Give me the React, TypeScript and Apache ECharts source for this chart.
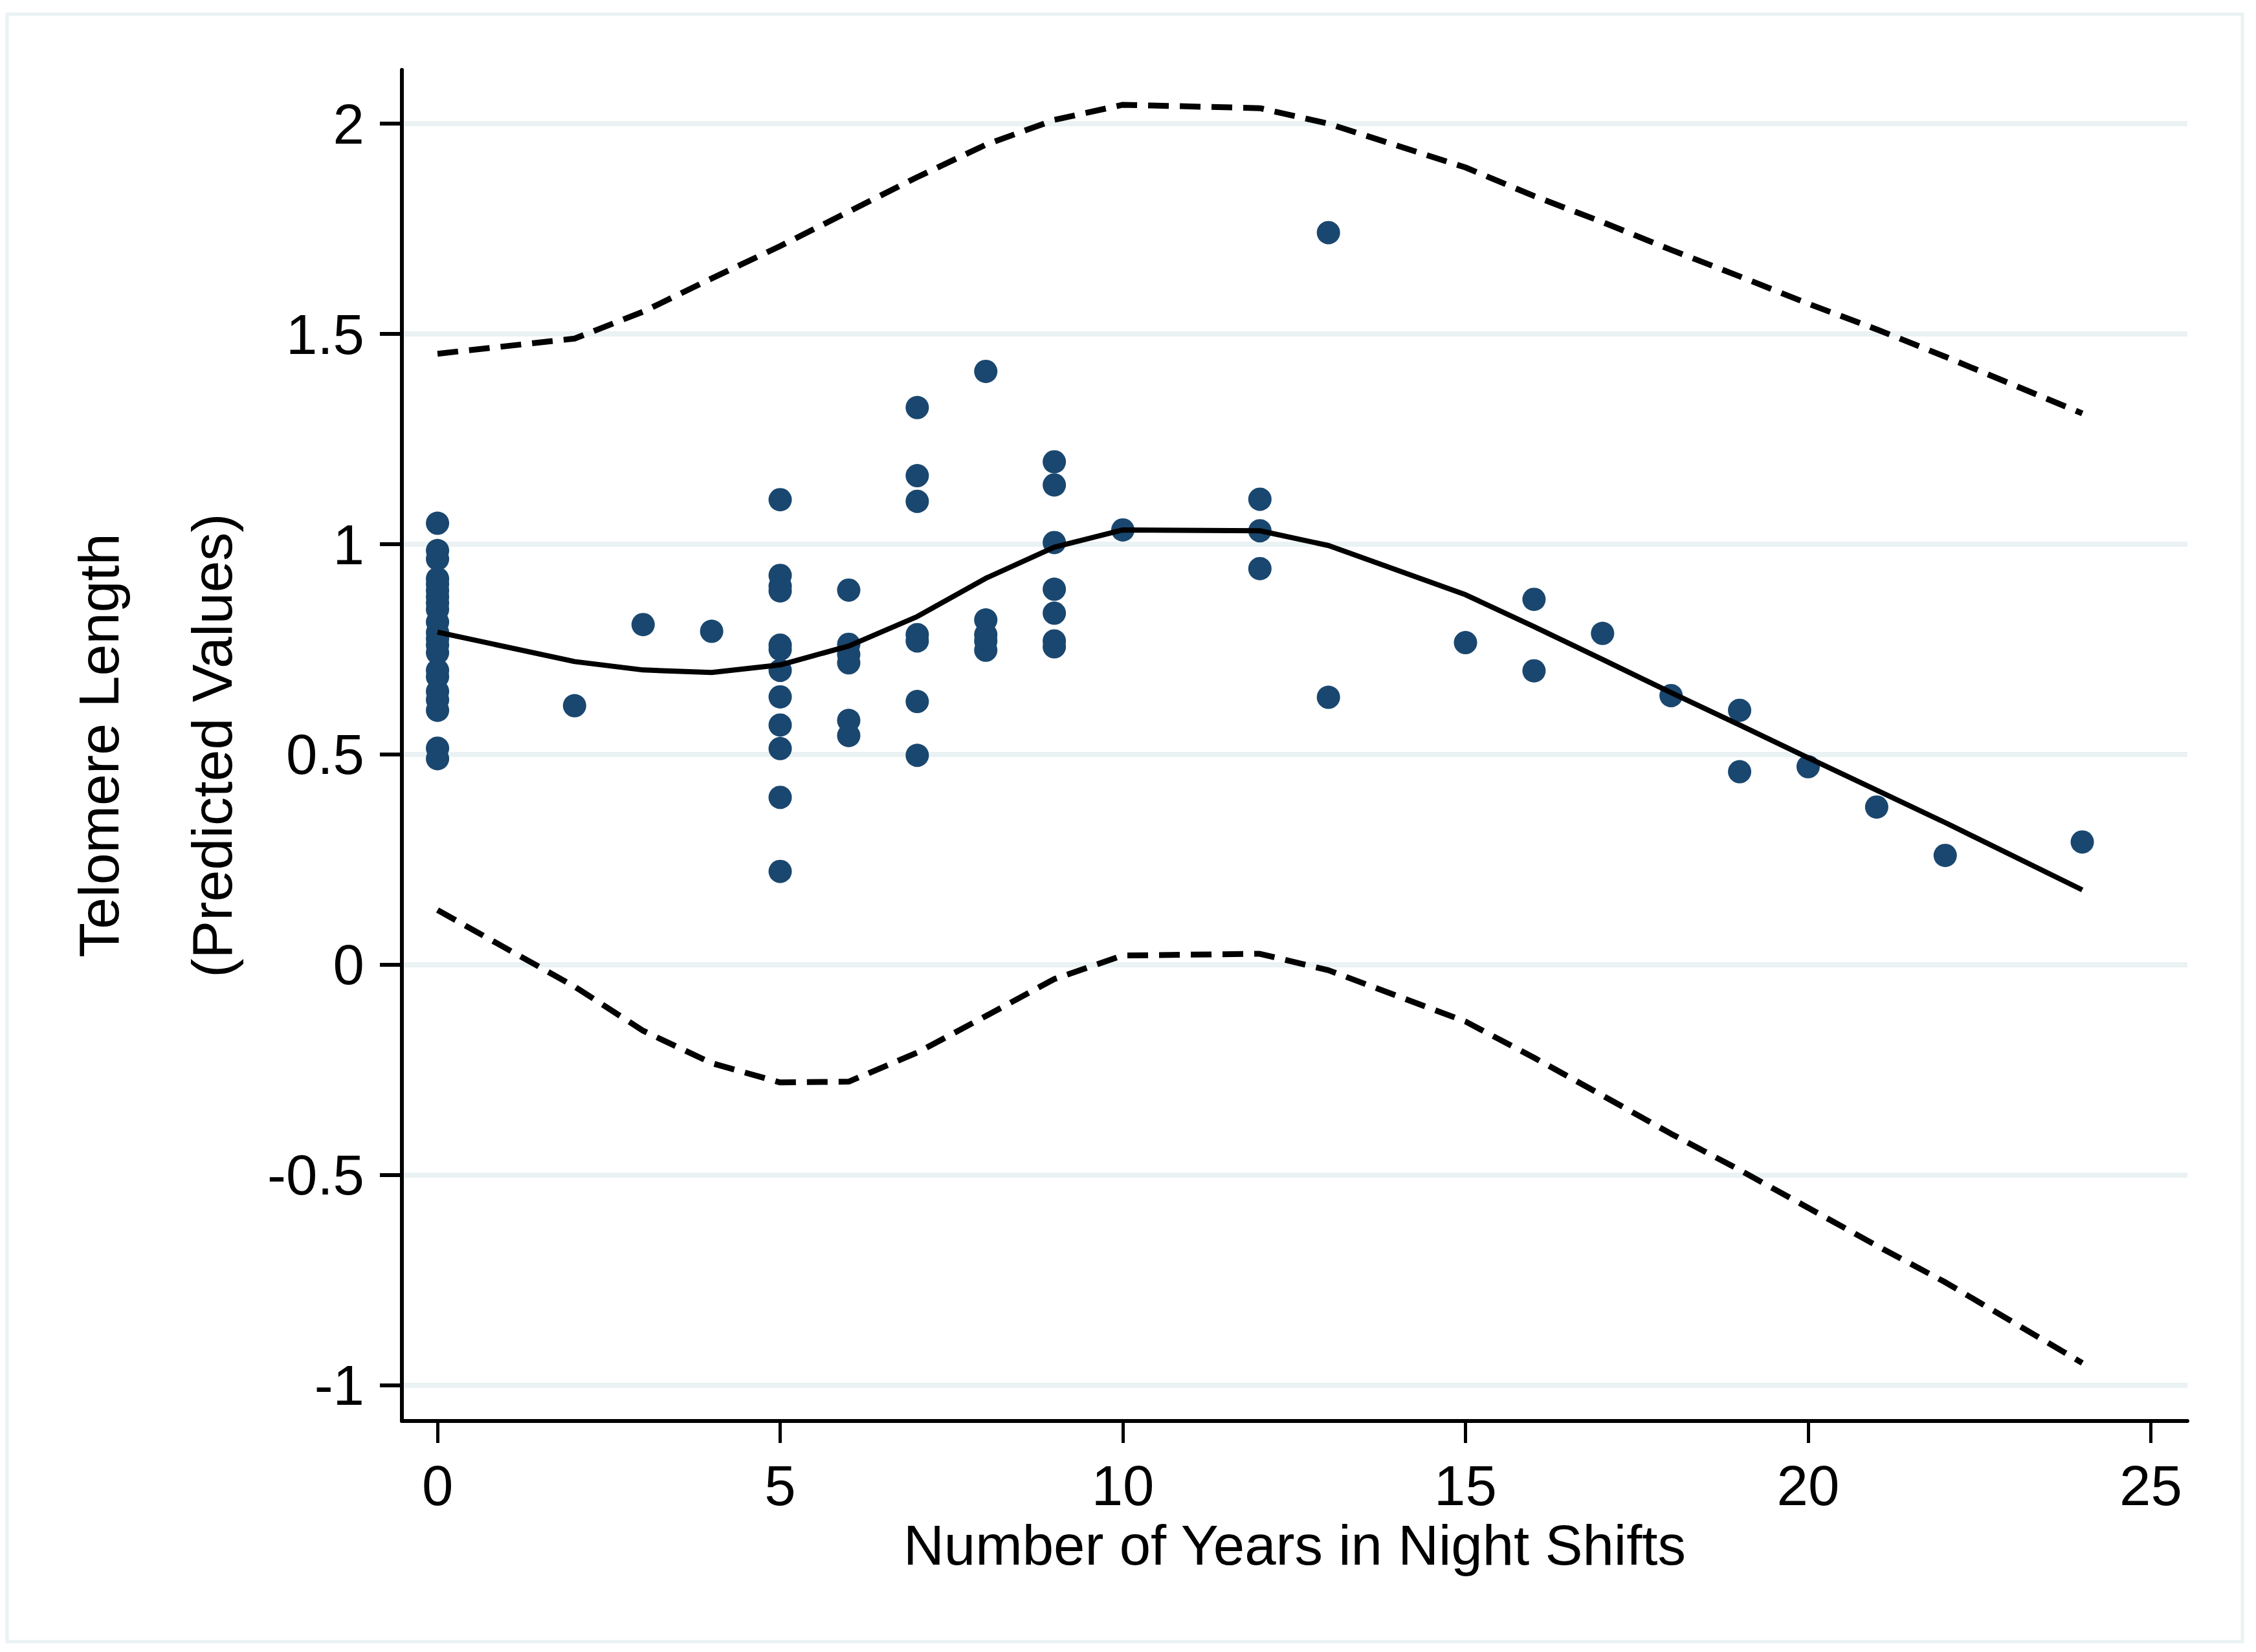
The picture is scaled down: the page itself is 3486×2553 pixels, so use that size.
import React, { useEffect, useRef } from "react";
import * as echarts from "echarts";

// Fitted curve and 95% band, evaluated at the observed years
const fitYears = [0, 2, 3, 4, 5, 6, 7, 8, 9, 10, 12, 13, 15, 16, 17, 18, 19, 20, 21, 22, 24];
const fitValues = [0.791, 0.721, 0.701, 0.695, 0.713, 0.758, 0.828, 0.919, 0.993, 1.034, 1.032, 0.997, 0.88, 0.804, 0.726, 0.647, 0.57, 0.492, 0.415, 0.338, 0.178];
const upperValues = [1.453, 1.489, 1.553, 1.632, 1.709, 1.791, 1.873, 1.95, 2.009, 2.045, 2.037, 2.0, 1.896, 1.828, 1.766, 1.7, 1.637, 1.572, 1.511, 1.446, 1.311];
const lowerValues = [0.13, -0.052, -0.157, -0.234, -0.28, -0.278, -0.209, -0.122, -0.034, 0.022, 0.026, -0.013, -0.135, -0.221, -0.311, -0.402, -0.488, -0.578, -0.668, -0.755, -0.947];

// Observed points
const pointYears = [
  0, 0, 0, 0, 0, 0, 0, 0, 0, 0, 0, 0, 0, 0, 0, 0, 0, 0, 0, 0, 0,
  2, 3, 4,
  5, 5, 5, 5, 5, 5, 5, 5, 5, 5, 5, 5,
  6, 6, 6, 6, 6, 6,
  7, 7, 7, 7, 7, 7, 7,
  8, 8, 8, 8, 8,
  9, 9, 9, 9, 9, 9, 9,
  10,
  12, 12, 12,
  13, 13,
  15, 16, 16, 17, 18, 19, 19, 20, 21, 22, 24,
];
const pointLengths = [
  1.05, 0.985, 0.965, 0.918, 0.905, 0.89, 0.875, 0.86, 0.845, 0.815, 0.79, 0.775, 0.76, 0.742, 0.7, 0.685, 0.65, 0.63, 0.605, 0.515, 0.49,
  0.616, 0.809, 0.793,
  1.106, 0.926, 0.9, 0.889, 0.76, 0.75, 0.7, 0.637, 0.57, 0.514, 0.398, 0.222,
  0.891, 0.762, 0.738, 0.718, 0.581, 0.545,
  1.325, 1.163, 1.102, 0.785, 0.77, 0.626, 0.498,
  1.411, 0.82, 0.785, 0.77, 0.748,
  1.196, 1.141, 1.004, 0.893, 0.836, 0.77, 0.756,
  1.034,
  1.107, 1.032, 0.942,
  1.741, 0.636,
  0.766, 0.869, 0.699, 0.788, 0.64, 0.605, 0.459, 0.471, 0.375, 0.26, 0.292,
];

const xTicks = [0, 5, 10, 15, 20, 25];
const yTicks = [-1, -0.5, 0, 0.5, 1, 1.5, 2];

const xTitle = "Number of Years in Night Shifts";
const yTitle = "Telomere Length\n(Predicted Values)";

const FONT = "'Liberation Sans', Arial, Helvetica, sans-serif";

export default function App() {
  const ref = useRef<HTMLDivElement>(null);

  useEffect(() => {
    if (!ref.current) return;
    const chart = echarts.init(ref.current, null, { renderer: "svg" });

    const points = pointYears.map((x, i) => [x, pointLengths[i]]);
    const pair = (vals: number[]) => fitYears.map((x, i) => [x, vals[i]]);

    const option: any = {
      animation: false,
      backgroundColor: "#ffffff",
      textStyle: { fontFamily: FONT },
      grid: { left: 621, top: 108, width: 2759, height: 2088, containLabel: false },
      xAxis: {
        type: "value",
        min: -0.52,
        max: 25.534,
        name: xTitle,
        nameLocation: "middle",
        nameGap: 135,
        nameTextStyle: { fontSize: 87, color: "#000", fontFamily: FONT },
        axisLine: { show: true, onZero: false, lineStyle: { color: "#000", width: 6 } },
        axisTick: { show: true, length: 34, customValues: xTicks, lineStyle: { color: "#000", width: 5 } },
        axisLabel: { customValues: xTicks, fontSize: 87, color: "#000", margin: 56, fontFamily: FONT },
        splitLine: { show: false },
      },
      yAxis: {
        type: "value",
        min: -1.085,
        max: 2.128,
        axisLine: { show: true, onZero: false, lineStyle: { color: "#000", width: 6 } },
        axisTick: { show: true, length: 34, customValues: yTicks, lineStyle: { color: "#000", width: 6 } },
        axisLabel: { customValues: yTicks, fontSize: 87, color: "#000", margin: 58, fontFamily: FONT },
        splitLine: { show: true, lineStyle: { color: "#eaf2f3", width: 8 } },
      },
      series: [
        {
          type: "scatter",
          data: points,
          symbol: "circle",
          symbolSize: 36,
          itemStyle: { color: "#1a476f", opacity: 1 },
          z: 2,
        },
        {
          type: "line",
          data: pair(fitValues),
          showSymbol: false,
          lineStyle: { color: "#000", width: 8 },
          z: 3,
        },
        {
          type: "line",
          data: pair(upperValues),
          showSymbol: false,
          lineStyle: { color: "#000", width: 9, type: [32, 17] },
          z: 3,
        },
        {
          type: "line",
          data: pair(lowerValues),
          showSymbol: false,
          lineStyle: { color: "#000", width: 9, type: [32, 17] },
          z: 3,
        },
      ],
      graphic: [
        {
          type: "rect",
          shape: { x: 11, y: 22, width: 3454, height: 2515 },
          style: { fill: "none", stroke: "#eaf2f3", lineWidth: 5 },
          silent: true,
        },
        {
          type: "text",
          x: 240,
          y: 1152,
          rotation: Math.PI / 2,
          style: {
            text: yTitle,
            fontSize: 88,
            lineHeight: 175,
            fontFamily: FONT,
            fill: "#000",
            align: "center",
            verticalAlign: "middle",
          },
        },
      ],
    };

    chart.setOption(option);
    return () => chart.dispose();
  }, []);

  return (
    <div
      ref={ref}
      style={{ position: "absolute", left: 0, top: 0, width: 3486, height: 2553, background: "#fff" }}
    />
  );
}
